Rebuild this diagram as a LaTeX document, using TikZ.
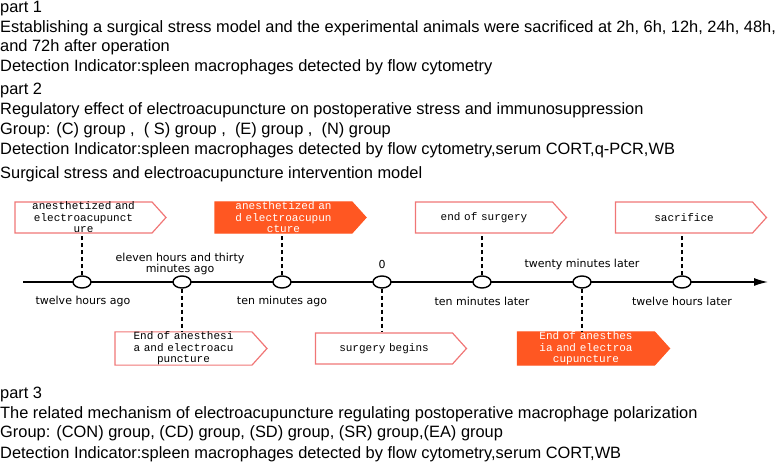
\documentclass[tikz,border=0pt]{standalone}
\usepackage{fontspec}
\setmainfont{Liberation Sans}
\newfontfamily\calloutfont{Liberation Mono}
\newfontfamily\labelfont{DejaVu Sans}
\usetikzlibrary{positioning,shapes.symbols,shapes.geometric,arrows.meta}
\definecolor{boxred}{RGB}{240,118,118}
\definecolor{boxorange}{RGB}{255,87,34}

\begin{document}
\begin{tikzpicture}[x=1pt,y=-1pt,
  txt/.style={anchor=base west,inner sep=0pt,font=\fontsize{16.4}{19}\selectfont},
  lbl/.style={inner sep=0pt,align=center,font=\labelfont\fontsize{11}{10.5}\selectfont},
  tick/.style={draw,line width=1.4pt,fill=white,ellipse,inner sep=0pt,minimum width=18pt,minimum height=12pt},
  callout/.style={signal,signal to=east,signal pointer angle=96,draw=boxred,line width=1.2pt,
    minimum height=31pt,text width=125pt,inner xsep=6pt,inner ysep=0pt,align=center,
    font=\calloutfont\fontsize{11}{11.5}\selectfont},
  hot/.style={callout,fill=boxorange,draw=boxorange,text=white},
  stem/.style={line width=1.6pt,dash pattern=on 4pt off 3pt}]
  \useasboundingbox (0,0) rectangle (777,462);

  \node[txt] (p1) at (0,13) {part 1};
  \node[txt] (p1a) at (0,33) {Establishing a surgical stress model and the experimental animals were sacrificed at 2h, 6h, 12h, 24h, 48h,};
  \node[txt] (p1b) at (0,52) {and 72h after operation};
  \node[txt] (p1c) at (0,72) {Detection Indicator:spleen macrophages detected by flow cytometry};
  \node[txt] (p2) at (0,95) {part 2};
  \node[txt] (p2a) at (0,115) {Regulatory effect of electroacupuncture on postoperative stress and immunosuppression};
  \node[txt] (p2b) at (0,135) {Group: (C) group ,\ \ ( S) group ,\ \ (E) group ,\ \ (N) group};
  \node[txt] (p2c) at (0,155) {Detection Indicator:spleen macrophages detected by flow cytometry,serum CORT,q-PCR,WB};
  \node[txt] (p2d) at (0,179) {Surgical stress and electroacupuncture intervention model};

  % time axis
  \coordinate (start) at (23,282);
  \coordinate (end) at (768,282);
  \draw[line width=1.4pt,-{Latex[length=14pt,width=8pt]}] (start) -- (end);
  \node[tick] (t1) at (82,282) {};
  \node[tick] (t2) at (182,282) {};
  \node[tick] (t3) at (282,282) {};
  \node[tick] (t4) at (382,282) {};
  \node[tick] (t5) at (482,282) {};
  \node[tick] (t6) at (582,282) {};
  \node[tick] (t7) at (682,282) {};

  \node[lbl] (l1) at (83,301) {twelve hours ago};
  \node[lbl] (l2) at (180,264) {eleven hours and thirty\\minutes ago};
  \node[lbl] (l3) at (282,301) {ten minutes ago};
  \node[lbl] (l4) at (382,264) {0};
  \node[lbl] (l5) at (482,301) {ten minutes later};
  \node[lbl] (l6) at (582,264) {twenty minutes later};
  \node[lbl] (l7) at (682,301) {twelve hours later};

  % callouts
  \node[callout] (b1) at (83.5,217.5) {anesthetized and\\electroacupunct\\ure};
  \node[hot] (b2) at (283.5,217.5) {anesthetized an\\d electroacupun\\cture};
  \node[callout] (b3) at (484,217.5) {end of surgery};
  \node[callout] (b4) at (684,217.5) {sacrifice};
  \node[callout] (b5) at (183.5,348.5) {End of anesthesi\\a and electroacu\\puncture};
  \node[callout] (b6) at (384,348.5) {surgery begins};
  \node[hot] (b7) at (586,348.5) {End of anesthes\\ia and electroa\\cupuncture};

  \draw[stem] (t1.north) -- (t1 |- b1.south);
  \draw[stem] (t3.north) -- (t3 |- b2.south);
  \draw[stem] (t5.north) -- (t5 |- b3.south);
  \draw[stem] (t7.north) -- (t7 |- b4.south);
  \draw[stem] (t2.south) -- (t2 |- b5.north);
  \draw[stem] (t4.south) -- (t4 |- b6.north);
  \draw[stem] (t6.south) -- (t6 |- b7.north);

  \node[txt] (p3) at (0,399) {part 3};
  \node[txt] (p3a) at (0,419) {The related mechanism of electroacupuncture regulating postoperative macrophage polarization};
  \node[txt] (p3b) at (0,438) {Group: (CON) group, (CD) group, (SD) group, (SR) group,(EA) group};
  \node[txt] (p3c) at (0,458) {Detection Indicator:spleen macrophages detected by flow cytometry,serum CORT,WB};
\end{tikzpicture}
\end{document}
